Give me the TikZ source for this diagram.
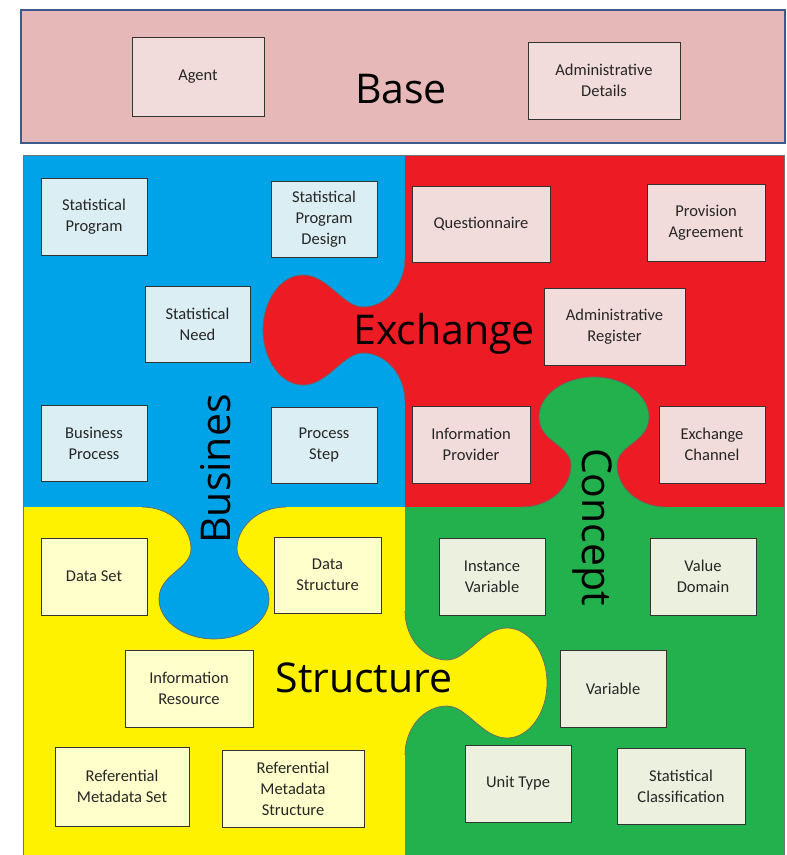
\documentclass[tikz,border=0pt]{standalone}
\usepackage{fontspec}
\setmainfont{Carlito}
\newfontfamily\bigfont{Open Sans}
\definecolor{basefill}{HTML}{E6B9B8}
\definecolor{baseborder}{HTML}{3C5A8C}
\definecolor{cblue}{HTML}{00A2E8}
\definecolor{cred}{HTML}{ED1C24}
\definecolor{cyellow}{HTML}{FFF200}
\definecolor{cgreen}{HTML}{22B14C}
\definecolor{bxblue}{HTML}{DAEEF3}
\definecolor{bxred}{HTML}{F2DCDB}
\definecolor{bxyellow}{HTML}{FFFFCC}
\definecolor{bxgreen}{HTML}{EBF1DE}
\newcommand\boxfont{\fontsize{16.5}{21}\selectfont}
\newcommand\labfont{\bigfont\fontsize{41}{48}\selectfont}
\newcommand\bx[7]{%
  \pgfmathsetmacro\bxcx{(#2+#4)/2}%
  \pgfmathsetmacro\bxcy{(#3+#5)/2}%
  \pgfmathsetmacro\bxw{#4-#2}%
  \pgfmathsetmacro\bxh{#5-#3}%
  \node[#6, minimum width=\bxw pt, minimum height=\bxh pt] (#1) at (\bxcx,\bxcy) {#7};%
}
\newcommand\tabcurve[1]{%
 (-72,0) .. controls (-45,0) and (-23,19) .. (-23,42)
 .. controls (-23,62) and (-55,{#1-65}) .. (-55,{#1-40})
 .. controls (-55,{#1-18}) and (-30,#1) .. (0,#1)
 .. controls (30,#1) and (55,{#1-18}) .. (55,{#1-40})
 .. controls (55,{#1-65}) and (23,62) .. (23,42)
 .. controls (23,19) and (45,0) .. (72,0)}
\begin{document}
\begin{tikzpicture}[x=1pt,y=-1pt,
  box/.style={draw=black!80, line width=0.9pt, inner sep=2pt, align=center, font=\boxfont, text=black!85},
  boxb/.style={box, fill=bxblue},
  boxr/.style={box, fill=bxred},
  boxy/.style={box, fill=bxyellow},
  boxg/.style={box, fill=bxgreen},
  lab/.style={font=\labfont, inner sep=0pt, anchor=base},
  tabline/.style={draw=black!60, line width=0.7pt}]
\useasboundingbox (0,0) rectangle (787,855);
% base
\draw[baseborder, fill=basefill, line width=1.5pt] (21,10) rectangle (785,143);
% quadrants
\fill[cblue] (23,155) rectangle (405,507);
\fill[cred] (405,155) rectangle (784,507);
\fill[cyellow] (23,507) rectangle (405,856);
\fill[cgreen] (405,507) rectangle (784,856);
% tabs
\begin{scope}[shift={(405,330)}, x={(0pt,-1pt)}, y={(-1pt,0pt)}]
  \fill[cred] \tabcurve{142} -- (72,-3) -- (-72,-3) -- cycle;
  \draw[tabline] \tabcurve{142};
\end{scope}
\begin{scope}[shift={(214,507)}, x={(1pt,0pt)}, y={(0pt,-1pt)}]
  \fill[cblue] \tabcurve{132} -- (72,-3) -- (-72,-3) -- cycle;
  \draw[tabline] \tabcurve{132};
\end{scope}
\begin{scope}[shift={(594,507)}, x={(1pt,0pt)}, y={(0pt,1pt)}]
  \fill[cgreen] \tabcurve{130} -- (72,-3) -- (-72,-3) -- cycle;
  \draw[tabline] \tabcurve{130};
\end{scope}
\begin{scope}[shift={(405,683)}, x={(0pt,-1pt)}, y={(1pt,0pt)}]
  \fill[cyellow] \tabcurve{142} -- (72,-3) -- (-72,-3) -- cycle;
  \draw[tabline] \tabcurve{142};
\end{scope}
\draw[black!55, line width=0.8pt] (23,856) -- (23,155) -- (784,155) -- (784,856);
% base boxes
\bx{agent}{132}{37}{264}{116}{boxr}{Agent}
\bx{admdet}{528}{42}{680}{119}{boxr}{Administrative\\Details}
% blue boxes
\bx{sp}{41}{178}{147}{255}{boxb}{Statistical\\Program}
\bx{spd}{271}{181}{377}{257}{boxb}{Statistical\\Program\\Design}
\bx{sn}{145}{286}{250}{362}{boxb}{Statistical\\Need}
\bx{bp}{41}{405}{147}{481}{boxb}{Business\\Process}
\bx{ps}{271}{407}{377}{483}{boxb}{Process\\Step}
% red boxes
\bx{q}{412}{186}{550}{262}{boxr}{Questionnaire}
\bx{pa}{647}{184}{765}{261}{boxr}{Provision\\Agreement}
\bx{ar}{544}{288}{685}{365}{boxr}{Administrative\\Register}
\bx{ip}{412}{406}{530}{483}{boxr}{Information\\Provider}
\bx{ec}{659}{406}{765}{483}{boxr}{Exchange\\Channel}
% yellow boxes
\bx{ds}{41}{538}{147}{615}{boxy}{Data Set}
\bx{dst}{274}{537}{381}{613}{boxy}{Data\\Structure}
\bx{ir}{125}{650}{253}{727}{boxy}{Information\\Resource}
\bx{rms}{55}{747}{189}{826}{boxy}{Referential\\Metadata Set}
\bx{rmst}{222}{750}{364}{827}{boxy}{Referential\\Metadata\\Structure}
% green boxes
\bx{iv}{439}{538}{545}{615}{boxg}{Instance\\Variable}
\bx{vd}{650}{538}{756}{615}{boxg}{Value\\Domain}
\bx{var}{560}{650}{666}{727}{boxg}{Variable}
\bx{ut}{465}{745}{571}{822}{boxg}{Unit Type}
\bx{sc}{617}{748}{745}{824}{boxg}{Statistical\\Classification}
% labels
\node[lab] (lbase) at (401,103) {Base};
\node[lab] (lexch) at (444,344) {Exchange};
\node[lab] (lstruct) at (364,692) {Structure};
\node[lab, rotate=90] (lbus) at (230,469) {Busines};
\node[lab, rotate=-90] (lconc) at (582,527) {Concept};
\end{tikzpicture}
\end{document}
